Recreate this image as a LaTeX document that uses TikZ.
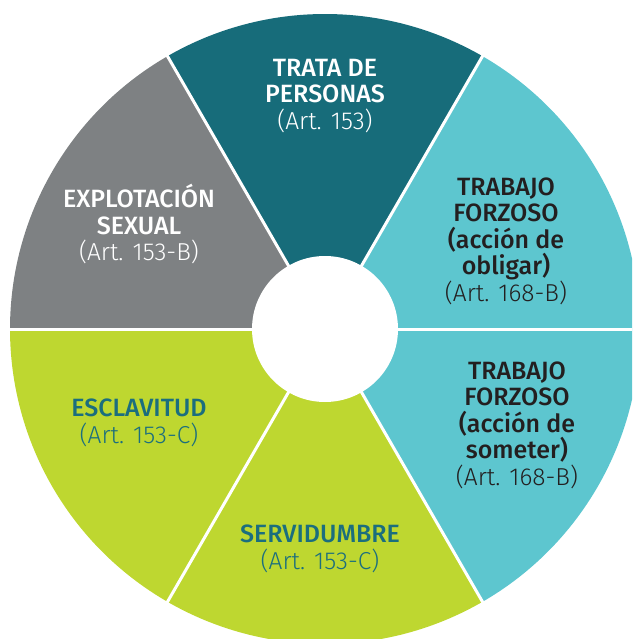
\documentclass[tikz,border=0pt]{standalone}
\usepackage{fontspec}
\setmainfont{Fira Sans}
\newfontfamily\headfont{Fira Sans Medium}
\newfontfamily\artfont{Fira Sans Light}
\definecolor{mteal}{RGB}{23,108,122}
\definecolor{mcyan}{RGB}{93,198,207}
\definecolor{mgray}{RGB}{126,129,131}
\definecolor{mlime}{RGB}{190,215,48}
\definecolor{mink}{RGB}{35,31,32}
\definecolor{mtealtext}{RGB}{27,110,126}
\tikzset{wheeltext/.style={align=center, font=\headfont\fontsize{25}{26.5}\selectfont}}
\newcommand{\artref}[1]{{\artfont\fontsize{24.5}{26.5}\selectfont #1}}

\begin{document}
\begin{tikzpicture}[y=1pt, x=1pt, yscale=-1, inner sep=0pt, outer sep=0pt]

\useasboundingbox (0,0) rectangle (632,639);
\clip (0,0) rectangle (632,639);

% sectors
\fill[mteal] (325,329) -- ++(240:315) arc[start angle=240, end angle=300, radius=315] -- cycle;
\fill[mcyan] (325,329) -- ++(300:315) arc[start angle=300, end angle=360, radius=315] -- cycle;
\fill[mcyan] (325,329) -- ++(0:315) arc[start angle=0, end angle=60, radius=315] -- cycle;
\fill[mlime] (325,329) -- ++(60:315) arc[start angle=60, end angle=120, radius=315] -- cycle;
\fill[mlime] (325,329) -- ++(120:315) arc[start angle=120, end angle=180, radius=315] -- cycle;
\fill[mgray] (325,329) -- ++(180:315) arc[start angle=180, end angle=240, radius=315] -- cycle;

% white spokes
\draw[white, line width=3] (325,329) -- ++(0:330);
\draw[white, line width=3] (325,329) -- ++(60:330);
\draw[white, line width=3] (325,329) -- ++(120:330);
\draw[white, line width=3] (325,329) -- ++(180:330);
\draw[white, line width=3] (325,329) -- ++(240:330);
\draw[white, line width=3] (325,329) -- ++(300:330);

% hub
\fill[white] (325,329) circle[radius=73];

% labels
\node[wheeltext, text=white] (trata) at (325,96) {TRATA DE\\PERSONAS\\\artref{(Art. 153)}};
\node[wheeltext, text=white] (explotacion) at (139,224) {EXPLOTACIÓN\\SEXUAL\\\artref{(Art. 153-B)}};
\node[wheeltext, text=mink] (obligar) at (506,241) {TRABAJO\\FORZOSO\\(acción de\\obligar)\\\artref{(Art. 168-B)}};
\node[wheeltext, text=mink] (someter) at (517,425) {TRABAJO\\FORZOSO\\(acción de\\someter)\\\artref{(Art. 168-B)}};
\node[wheeltext, text=mtealtext] (esclavitud) at (139,423) {ESCLAVITUD\\\artref{(Art. 153-C)}};
\node[wheeltext, text=mtealtext] (servidumbre) at (320,549) {SERVIDUMBRE\\\artref{(Art. 153-C)}};

\end{tikzpicture}
\end{document}
